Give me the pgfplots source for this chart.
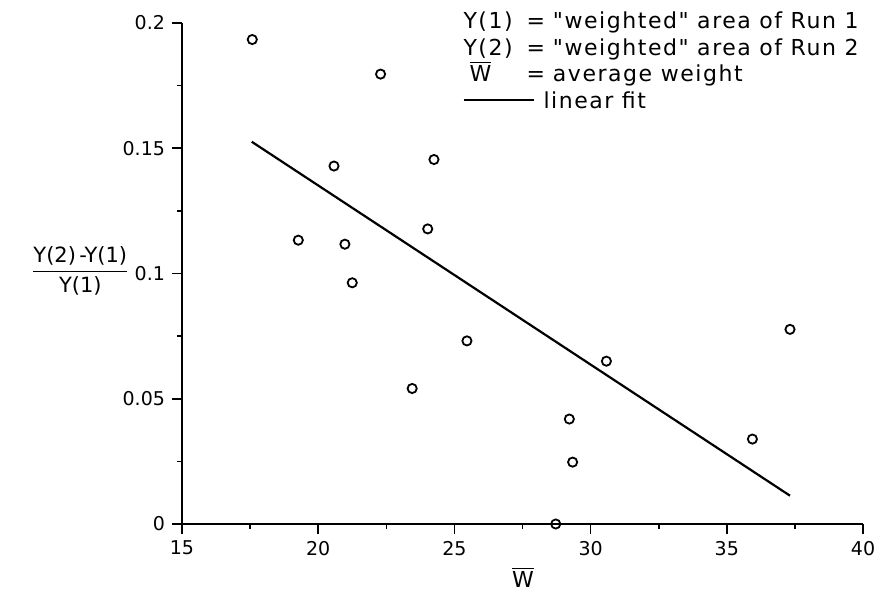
\documentclass[border=0pt]{standalone}
\usepackage{pgfplots}
\pgfplotsset{compat=1.18}
\usepackage{fontspec}
\setmainfont{DejaVu Sans}
\newfontfamily\legfont[LetterSpace=7]{DejaVu Sans}

% measured circles (W-bar, relative difference)
\pgfplotstableread{
w      d
17.58  0.1934
22.29  0.1796
20.58  0.1429
24.25  0.1455
19.27  0.1133
20.98  0.1117
21.25  0.0963
24.02  0.1178
25.46  0.0731
23.45  0.0541
30.58  0.0650
29.22  0.0419
29.34  0.0247
28.72  0.0000
37.32  0.0777
35.94  0.0339
}\points

\pgfplotstableread{
w      d
17.56  0.1526
37.32  0.0113
}\fit

\begin{document}
\begin{tikzpicture}
\begin{axis}[
    at={(0,0)}, anchor=south west,
    scale only axis,
    width=340.5pt, height=250.5pt,
    xmin=15, xmax=40, ymin=0, ymax=0.2,
    axis x line*=bottom, axis y line*=left,
    x axis line style={line width=0.6pt},
    y axis line style={line width=1.1pt},
    tick align=outside,
    major tick length=5pt, minor tick length=2.5pt,
    every tick/.style={black, line width=0.8pt},
    xtick={15,20,25,30,35,40},
    ytick={0,0.05,0.1,0.15,0.2},
    yticklabels={0,0.05,0.1,0.15,0.2},
    minor x tick num=1, minor y tick num=1,
    /pgf/number format/assume math mode=true,
    ticklabel style={font=\fontsize{9.5}{11}\selectfont},
    clip=false,
]
\addplot[only marks, mark=o, mark size=2.3pt, mark options={line width=0.9pt}] table[x=w, y=d] {\points};
\addplot[line width=1.1pt] table[x=w, y=d] {\fit};

\node[anchor=north west, inner sep=0, align=left,
      font=\legfont\fontsize{11}{13.2}\selectfont] at (axis cs:25.32,0.2045) {%
  \makebox[31.5pt][l]{Y(1)}=\hspace{4pt}"weighted" area of Run 1\\
  \makebox[31.5pt][l]{Y(2)}=\hspace{4pt}"weighted" area of Run 2\\
  \makebox[31.5pt][l]{\hspace{3pt}$\overline{\mbox{W}}$}=\hspace{4pt}average weight\\
  \rule[0.6ex]{35pt}{1pt}\hspace{5pt}linear fit};

\node[anchor=east, inner sep=0, font=\fontsize{10.5}{12}\selectfont]
  at (axis cs:13.09,0.1011)
  {$\displaystyle\frac{\mbox{Y(2)\,-Y(1)}}{\mbox{Y(1)}}$};

\node[anchor=north, inner sep=0, yshift=-21.5pt, font=\fontsize{11}{12}\selectfont]
  at (axis cs:27.52,0) {$\overline{\mbox{W}}$};
\end{axis}
\pgfresetboundingbox
\path[use as bounding box] (-91pt,-35.5pt) rectangle (348pt,262pt);
\end{tikzpicture}
\end{document}
